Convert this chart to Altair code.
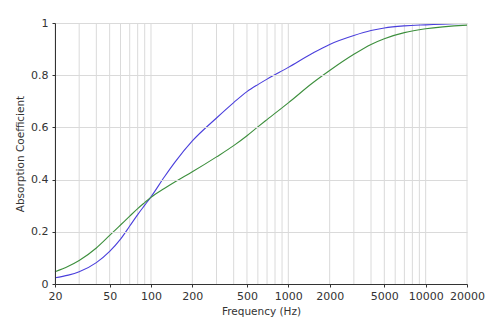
import altair as alt
import pandas as pd

freq = [20, 25, 30, 40, 50, 60, 70, 80, 90, 100, 125, 150, 200, 300, 400, 500, 600, 700, 1000, 1500, 2000, 3000, 4000, 5000, 7000, 10000, 20000]
blue = [0.024, 0.034, 0.047, 0.082, 0.125, 0.172, 0.222, 0.266, 0.302, 0.334, 0.41, 0.468, 0.548, 0.636, 0.695, 0.737, 0.764, 0.785, 0.83, 0.884, 0.918, 0.952, 0.971, 0.981, 0.989, 0.993, 0.998]
green = [0.047, 0.068, 0.09, 0.138, 0.186, 0.226, 0.26, 0.289, 0.312, 0.332, 0.366, 0.392, 0.43, 0.487, 0.53, 0.568, 0.602, 0.63, 0.694, 0.77, 0.818, 0.88, 0.918, 0.94, 0.963, 0.978, 0.992]

grid_freqs = [20, 30, 40, 50, 60, 70, 80, 90, 100, 200, 300, 400, 500, 600, 700, 800, 900,
              1000, 2000, 3000, 4000, 5000, 6000, 7000, 8000, 9000, 10000, 20000]
label_freqs = [20, 50, 100, 200, 500, 1000, 2000, 5000, 10000, 20000]
y_ticks = [0, 0.2, 0.4, 0.6, 0.8, 1]

df = pd.concat([
    pd.DataFrame({"freq": freq, "value": blue, "series": "A"}),
    pd.DataFrame({"freq": freq, "value": green, "series": "B"}),
])
grid_df = pd.DataFrame({"freq": grid_freqs})

xscale = alt.Scale(type="log", domain=[20, 20000], nice=False)
yscale = alt.Scale(domain=[0, 1], nice=False)
xaxis = alt.Axis(values=label_freqs, format="d", grid=False, tickSize=3,
                 labelPadding=3, titlePadding=5, zindex=1,
                 labelFlush=False, labelOverlap=False, labelBound=False)

grid = alt.Chart(grid_df).mark_rule(color="#dadada", strokeWidth=1).encode(
    x=alt.X("freq:Q", scale=xscale, title="Frequency (Hz)", axis=xaxis)
)

lines = alt.Chart(df).mark_line(strokeWidth=1.1, interpolate="monotone").encode(
    x=alt.X("freq:Q", scale=xscale, title="Frequency (Hz)", axis=xaxis),
    y=alt.Y("value:Q", scale=yscale, title="Absorption Coefficient",
            axis=alt.Axis(values=y_ticks, format=".1~f", grid=True, gridColor="#dadada",
                          tickSize=3, labelPadding=4, titlePadding=5, zindex=1,
                          labelFlush=False)),
    color=alt.Color("series:N", scale=alt.Scale(domain=["A", "B"], range=["#4a3fdc", "#3d8f3d"]),
                    legend=None),
)

chart = alt.layer(grid, lines).properties(
    width=412, height=261,
    autosize=alt.AutoSizeParams(type="none"),
    padding={"left": 55, "top": 23, "right": 33, "bottom": 49},
    background="white",
).configure_view(stroke=None).configure_axis(
    labelFont="DejaVu Sans", labelFontSize=11, labelColor="#333333",
    titleFont="DejaVu Sans", titleFontSize=10.5, titleColor="#333333", titleFontWeight="normal",
    domainColor="#333333", tickColor="#333333",
)

chart.save("out.html", embed_options={"renderer": "svg", "actions": False})
